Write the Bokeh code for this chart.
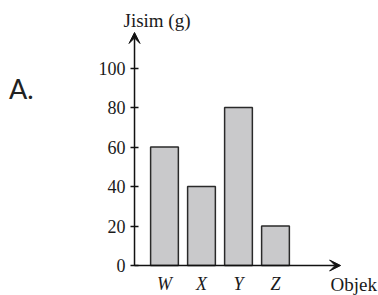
from bokeh.plotting import figure
from bokeh.models import Range1d, FixedTicker, Arrow, VeeHead, Label, ColumnDataSource
from bokeh.embed import file_html
from bokeh.resources import INLINE

categories = ["W", "X", "Y", "Z"]
values = [60, 40, 80, 20]
y_ticks = [0, 20, 40, 60, 80, 100]
y_title = "Jisim (g)"
x_title = "Objek"
panel_label = "A."

positions = list(range(1, len(categories) + 1))
src = ColumnDataSource(dict(x=positions, top=values, cat=categories))

# axis geometry (data units)
AX_X = 0.19      # where the vertical axis stands
ARROW_X = 5.76   # tip of horizontal arrow
ARROW_Y = 118    # tip of vertical arrow

p = figure(width=378, height=295, output_backend="svg", toolbar_location=None,
           x_range=Range1d(-3.432, 6.784), y_range=Range1d(-15.19, 134.18),
           min_border_left=0, min_border_right=0, min_border_top=0, min_border_bottom=0)
p.outline_line_color = None
p.grid.visible = False
p.background_fill_color = "white"
p.border_fill_color = "white"

p.vbar(x="x", top="top", bottom=0, width=0.75, source=src,
       fill_color="#c9c9cb", line_color="#2a2a2a", line_width=1.5)

serif = "Liberation Serif"
ya = p.yaxis[0]
ya.fixed_location = AX_X
ya.ticker = FixedTicker(ticks=y_ticks)
ya.axis_line_color = None
ya.major_tick_in = 4
ya.major_tick_out = 4
ya.major_tick_line_color = "#111111"
ya.major_tick_line_width = 1.3
ya.minor_tick_line_color = None
ya.major_label_standoff = 5
ya.major_label_text_font = serif
ya.major_label_text_font_size = "18px"
ya.major_label_text_color = "#1a1a1a"

xa = p.xaxis[0]
xa.fixed_location = 0
xa.ticker = FixedTicker(ticks=positions)
xa.major_label_overrides = {pos: c for pos, c in zip(positions, categories)}
xa.axis_line_color = None
xa.major_tick_line_color = None
xa.major_tick_in = 0
xa.major_tick_out = 0
xa.minor_tick_line_color = None
xa.major_label_standoff = 8
xa.major_label_text_font = serif
xa.major_label_text_font_style = "italic"
xa.major_label_text_font_size = "18px"
xa.major_label_text_color = "#1a1a1a"

head = dict(size=11, fill_color="#111111", line_color="#111111", line_width=1)
p.add_layout(Arrow(x_start=AX_X, y_start=0, x_end=ARROW_X, y_end=0, line_width=1.5,
                   line_color="#111111", end=VeeHead(**head)))
p.add_layout(Arrow(x_start=AX_X, y_start=0, x_end=AX_X, y_end=ARROW_Y, line_width=1.5,
                   line_color="#111111", end=VeeHead(**head)))

p.add_layout(Label(x=-0.108, y=124, text=y_title, text_font=serif, text_font_size="19px",
                   text_color="#1a1a1a", text_baseline="middle", text_align="left"))
p.add_layout(Label(x=5.486, y=-9.6, text=x_title, text_font=serif, text_font_size="19px",
                   text_color="#1a1a1a", text_baseline="middle", text_align="left"))
p.add_layout(Label(x=-3.2, y=89.6, text=panel_label, text_font="Lato", text_font_size="27px",
                   text_color="#222222", text_baseline="middle", text_align="left"))

open("out.html", "w").write(file_html(p, INLINE))
